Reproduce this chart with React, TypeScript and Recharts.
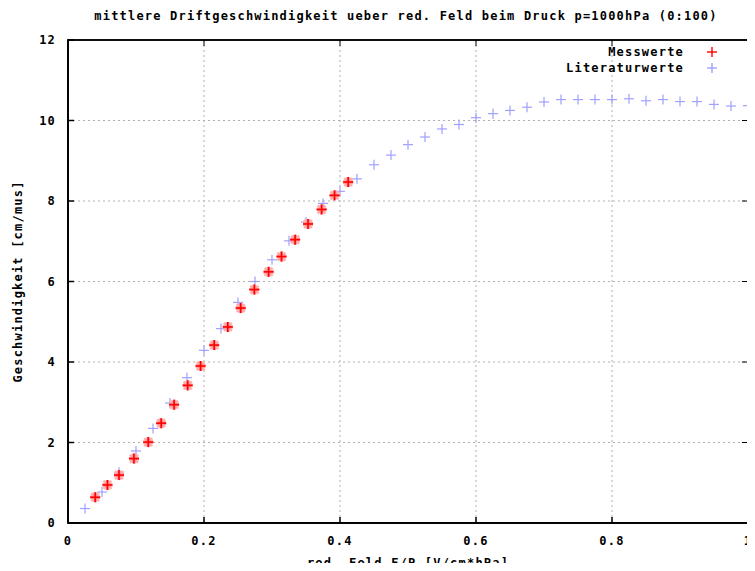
import React from "react";
import { ScatterChart, Scatter, XAxis, YAxis, CartesianGrid, ReferenceArea } from "recharts";

// Literaturwerte (blue)
const litX = [0.025, 0.05, 0.075, 0.1, 0.125, 0.15, 0.175, 0.2, 0.225, 0.25, 0.275, 0.3, 0.325, 0.35, 0.375, 0.4, 0.425, 0.45, 0.475, 0.5,
  0.525, 0.55, 0.575, 0.6, 0.625, 0.65, 0.675, 0.7, 0.725, 0.75, 0.775, 0.8, 0.825, 0.85, 0.875, 0.9, 0.925, 0.95, 0.975, 1.0];
const litY = [0.36, 0.77, 1.26, 1.79, 2.35, 2.98, 3.61, 4.29, 4.83, 5.48, 6.0, 6.54, 7.01, 7.48, 7.94, 8.24, 8.55, 8.9, 9.14, 9.4,
  9.59, 9.79, 9.9, 10.07, 10.17, 10.25, 10.33, 10.46, 10.52, 10.52, 10.52, 10.52, 10.54, 10.49, 10.52, 10.47, 10.47, 10.4, 10.36, 10.37];

// Messwerte (red)
const messX = [0.04, 0.058, 0.075, 0.097, 0.118, 0.137, 0.156, 0.176, 0.195, 0.215, 0.235, 0.254, 0.274, 0.295, 0.314, 0.334, 0.353, 0.373, 0.392, 0.412];
const messY = [0.64, 0.945, 1.19, 1.6, 2.01, 2.48, 2.94, 3.42, 3.9, 4.42, 4.87, 5.34, 5.8, 6.24, 6.62, 7.04, 7.43, 7.79, 8.14, 8.47];

const xTicks = [0, 0.2, 0.4, 0.6, 0.8, 1];
const yTicks = [0, 2, 4, 6, 8, 10, 12];

const litData = litX.map((x, i) => ({ x, y: litY[i] }));
const messData = messX.map((x, i) => ({ x, y: messY[i] }));

const FONT = "'DejaVu Sans Mono', 'Liberation Mono', monospace";
const tickStyle = { fill: "#000", fontSize: 12, fontFamily: FONT, fontWeight: "bold", letterSpacing: 1.2 };
const textStyle: React.CSSProperties = { fontSize: 12, fontFamily: FONT, fontWeight: "bold", letterSpacing: 1.2, color: "#000", whiteSpace: "nowrap" };

const BLUE = "#a0a0ff";
const RED = "#ff0000";

const M = { top: 40, right: 7, left: 68, bottom: 48 };
const W = 755;
const H = 571;
const PW = W - M.left - M.right;
const PH = H - M.top - M.bottom;

const BluePlus = (p: any) => (
  <g>
    <line x1={p.cx - 5} x2={p.cx + 5} y1={p.cy} y2={p.cy} stroke={BLUE} strokeWidth={1.2} />
    <line x1={p.cx} x2={p.cx} y1={p.cy - 5} y2={p.cy + 5} stroke={BLUE} strokeWidth={1.2} />
  </g>
);

const RedPlus = (p: any) => (
  <g>
    <line x1={p.cx - 4} x2={p.cx + 4} y1={p.cy - 4} y2={p.cy + 4} stroke="#ffb0b0" strokeWidth={2.5} />
    <line x1={p.cx - 4} x2={p.cx + 4} y1={p.cy + 4} y2={p.cy - 4} stroke="#ffb0b0" strokeWidth={2.5} />
    <line x1={p.cx - 5} x2={p.cx + 5} y1={p.cy} y2={p.cy} stroke="#ff9090" strokeWidth={3.5} />
    <line x1={p.cx} x2={p.cx} y1={p.cy - 5} y2={p.cy + 5} stroke="#ff9090" strokeWidth={3.5} />
    <line x1={p.cx - 5} x2={p.cx + 5} y1={p.cy} y2={p.cy} stroke={RED} strokeWidth={1.6} />
    <line x1={p.cx} x2={p.cx} y1={p.cy - 5} y2={p.cy + 5} stroke={RED} strokeWidth={1.6} />
  </g>
);

const LegendMark = ({ color }: { color: string }) => (
  <svg width={12} height={12} style={{ display: "block" }}>
    <line x1={1} x2={11} y1={6} y2={6} stroke={color} strokeWidth={1.4} />
    <line x1={6} x2={6} y1={1} y2={11} stroke={color} strokeWidth={1.4} />
  </svg>
);

export default function App() {
  return (
    <div style={{ position: "relative", margin: -8, width: W, height: H, background: "#fff" }}>
      <ScatterChart width={W} height={H} margin={{ top: M.top, right: M.right, bottom: 0, left: 0 }}>
        <CartesianGrid stroke="#b0b0b0" strokeDasharray="2 3" />
        <XAxis
          dataKey="x"
          type="number"
          domain={[0, 1]}
          ticks={xTicks}
          height={M.bottom}
          tickSize={-6}
          tickMargin={19}
          stroke="#000"
          strokeWidth={1.5}
          tick={tickStyle}
          tickFormatter={(v: number) => String(v)}
          label={{ value: "red. Feld E/P [V/cm*hPa]", position: "insideBottom", offset: 4, style: tickStyle }}
        />
        <YAxis
          dataKey="y"
          type="number"
          domain={[0, 12]}
          ticks={yTicks}
          width={M.left}
          tickSize={-6}
          tickMargin={18}
          stroke="#000"
          strokeWidth={1.5}
          tick={tickStyle}
          label={{ value: "Geschwindigkeit [cm/mus]", angle: -90, position: "insideLeft", offset: 18, style: { ...tickStyle, textAnchor: "middle" } }}
        />
        <ReferenceArea x1={0} x2={1} y1={0} y2={12} fill="none" fillOpacity={0} stroke="#000" strokeWidth={1.5} ifOverflow="visible" />
        <Scatter name="Literaturwerte" data={litData} shape={BluePlus} isAnimationActive={false} />
        <Scatter name="Messwerte" data={messData} shape={RedPlus} isAnimationActive={false} />
      </ScatterChart>
      {/* inward ticks mirrored on the top and right border */}
      <svg width={W} height={H} style={{ position: "absolute", left: 0, top: 0, pointerEvents: "none" }}>
        <rect x={M.left} y={M.top} width={PW} height={PH} fill="none" stroke="#000" strokeWidth={1.5} />
        {xTicks.slice(1, -1).map((t) => (
          <line key={"tx" + t} x1={M.left + t * PW} x2={M.left + t * PW} y1={M.top} y2={M.top + 6} stroke="#000" />
        ))}
        {yTicks.slice(1, -1).map((t) => (
          <line key={"ty" + t} x1={M.left + PW} x2={M.left + PW - 6} y1={M.top + PH - (t / 12) * PH} y2={M.top + PH - (t / 12) * PH} stroke="#000" />
        ))}
      </svg>
      <div style={{ ...textStyle, position: "absolute", top: 9, left: 0, width: 812, textAlign: "center" }}>
        mittlere Driftgeschwindigkeit ueber red. Feld beim Druck p=1000hPa (0:100)
      </div>
      <div style={{ position: "absolute", top: 44, left: 400, width: 318 }}>
        {[
          { name: "Messwerte", color: RED },
          { name: "Literaturwerte", color: BLUE },
        ].map((item) => (
          <div key={item.name} style={{ display: "flex", justifyContent: "flex-end", alignItems: "center", height: 16 }}>
            <span style={textStyle}>{item.name}</span>
            <span style={{ width: 22 }} />
            <LegendMark color={item.color} />
          </div>
        ))}
      </div>
    </div>
  );
}
